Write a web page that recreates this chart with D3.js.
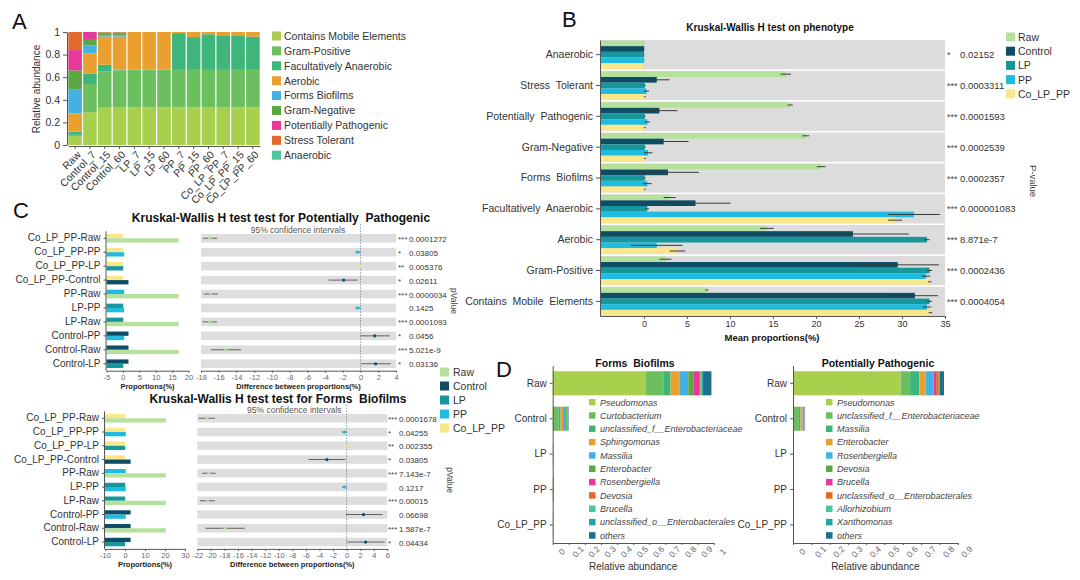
<!DOCTYPE html>
<html>
<head>
<meta charset="utf-8">
<script src="https://cdn.jsdelivr.net/npm/d3@7"></script>
<style>
  body { margin: 0; background: #fff; }
  svg { font-family: "Liberation Sans", Arial, sans-serif; }
</style>
</head>
<body>
<svg id="fig" width="1080" height="580"></svg>
<script>
// ---------- data ----------
// panel A : phenotype composition per sample (stack order, bottom first)
const samplesA = ["Raw", "Control_7", "Control_15", "Control_60", "LP_7", "LP_15", "LP_60",
  "PP_7", "PP_15", "PP_60", "Co_LP_PP_7", "Co_LP_PP_15", "Co_LP_PP_60"];
const phenotypesA = ["Contains Mobile Elements", "Gram-Positive", "Facultatively Anaerobic", "Aerobic",
  "Forms Biofilms", "Gram-Negative", "Potentially Pathogenic", "Stress Tolerant", "Anaerobic"];
const abundanceA = [
  [0.08, 0.01, 0.03, 0.16, 0.21, 0.17, 0.18, 0.16, 0.00],
  [0.29, 0.25, 0.09, 0.18, 0.07, 0.05, 0.07, 0.00, 0.00],
  [0.33, 0.32, 0.06, 0.25, 0.015, 0.02, 0.00, 0.005, 0.00],
  [0.335, 0.325, 0.005, 0.295, 0.015, 0.02, 0.00, 0.005, 0.00],
  [0.335, 0.33, 0.002, 0.333, 0, 0, 0, 0, 0],
  [0.335, 0.33, 0.002, 0.333, 0, 0, 0, 0, 0],
  [0.335, 0.33, 0.002, 0.333, 0, 0, 0, 0, 0],
  [0.335, 0.33, 0.325, 0.01, 0, 0, 0, 0, 0],
  [0.335, 0.33, 0.29, 0.045, 0, 0, 0, 0, 0],
  [0.335, 0.33, 0.315, 0.02, 0, 0, 0, 0, 0],
  [0.335, 0.33, 0.30, 0.035, 0, 0, 0, 0, 0],
  [0.335, 0.33, 0.30, 0.035, 0, 0, 0, 0, 0],
  [0.335, 0.33, 0.295, 0.04, 0, 0, 0, 0, 0]
];

// panel B : mean proportions (%) per group, with sd
const groups = ["Raw", "Control", "LP", "PP", "Co_LP_PP"];
const phenoB = ["Anaerobic", "Stress  Tolerant", "Potentially  Pathogenic", "Gram-Negative", "Forms  Biofilms",
  "Facultatively  Anaerobic", "Aerobic", "Gram-Positive", "Contains  Mobile  Elements"];
const meanB = [
  [0.03, 0.03, 0.03, 0.03, 0.03],
  [16.5, 1.5, 0.1, 0.3, 0.1],
  [17.0, 1.8, 0.1, 0.4, 0.1],
  [18.8, 2.3, 0.1, 0.5, 0.1],
  [20.6, 2.8, 0.1, 0.4, 0.1],
  [3.0, 6.0, 0.4, 31.4, 29.2],
  [14.3, 24.3, 32.9, 1.5, 3.9],
  [2.5, 29.5, 33.2, 32.8, 33.2],
  [7.3, 31.5, 33.2, 32.9, 33.3]
];
const sdB = [
  [0.02, 0.02, 0.02, 0.02, 0.02],
  [0.6, 1.5, 0.1, 0.3, 0.1],
  [0.3, 2.1, 0.1, 0.3, 0.1],
  [0.4, 2.9, 0.1, 0.5, 0.1],
  [0.5, 3.6, 0.1, 0.5, 0.1],
  [0.7, 4.1, 0.2, 3.0, 0.8],
  [0.8, 6.5, 0.3, 3.0, 0.9],
  [0.7, 4.8, 0.3, 0.5, 0.2],
  [0.2, 2.7, 0.3, 0.5, 0.2]
];
const pB = ["0.02152", "0.0003311", "0.0001593", "0.0002539", "0.0002357", "0.000001083", "8.871e-7", "0.0002436", "0.0004054"];
const starsB = ["*", "***", "***", "***", "***", "***", "***", "***", "***"];

// panel C : post-hoc pairs
const pairs = ["Co_LP_PP-Raw", "Co_LP_PP-PP", "Co_LP_PP-LP", "Co_LP_PP-Control", "PP-Raw", "LP-PP",
  "LP-Raw", "Control-PP", "Control-Raw", "Control-LP"];
const meansPath = [17.0, 1.7, 0.1, 0.4, 0.1];
const diffPath = [-17.0, -0.3, -0.05, -1.9, -16.9, -0.3, -17.0, 1.6, -15.2, 1.7];
const lowPath = [-17.8, -0.6, -0.2, -3.6, -17.7, -0.6, -17.8, 0.0, -16.9, 0.1];
const highPath = [-16.2, 0.0, 0.1, -0.3, -16.1, 0.0, -16.2, 3.3, -13.5, 3.4];
const pPath = ["0.0001272", "0.03805", "0.005376", "0.02611", "0.0000034", "0.1425", "0.0001093", "0.0456", "5.021e-9", "0.03136"];
const starsPath = ["***", "*", "**", "*", "***", "", "***", "*", "***", "*"];

const meansBio = [20.4, 2.8, 0.1, 0.4, 0.1];
const diffBio = [-20.6, -0.3, -0.05, -2.9, -20.3, -0.3, -20.5, 2.5, -17.9, 2.8];
const lowBio = [-21.8, -0.7, -0.2, -5.6, -21.3, -0.7, -21.6, -0.1, -20.8, 0.1];
const highBio = [-19.4, 0.0, 0.1, -0.2, -19.3, 0.0, -19.4, 5.3, -15.0, 5.6];
const pBio = ["0.0001678", "0.04255", "0.002355", "0.03805", "7.143e-7", "0.1217", "0.00015", "0.06698", "1.587e-7", "0.04434"];
const starsBio = ["***", "*", "**", "*", "***", "", "***", "", "***", "*"];

// panel D : genus composition of the two phenotypes
const samplesD = ["Raw", "Control", "LP", "PP", "Co_LP_PP"];
const genusBio = ["Pseudomonas", "Curtobacterium", "unclassified_f__Enterobacteriaceae", "Sphingomonas", "Massilia",
  "Enterobacter", "Rosenbergiella", "Devosia", "Brucella", "unclassified_o__Enterobacterales", "others"];
const abundBio = [
  [0.58, 0.107, 0.045, 0.058, 0.052, 0.031, 0.041, 0.005, 0.005, 0.01, 0.052],
  [0.002, 0.035, 0.012, 0.015, 0.02, 0.008, 0.001, 0.003, 0.001, 0.002, 0.001],
  [0.0005, 0.0005, 0.0003, 0.0002, 0.0003, 0.0002, 0, 0, 0, 0, 0.0005],
  [0.001, 0.003, 0.001, 0.0005, 0.001, 0.001, 0, 0, 0, 0, 0.0005],
  [0.0005, 0.0005, 0.0002, 0.0002, 0.0002, 0.0001, 0, 0, 0, 0, 0.0003]
];
const genusPath = ["Pseudomonas", "unclassified_f__Enterobacteriaceae", "Massilia", "Enterobacter", "Rosenbergiella",
  "Devosia", "Brucella", "unclassified_o__Enterobacterales", "Allorhizobium", "Xanthomonas", "others"];
const abundPath = [
  [0.588, 0.052, 0.05, 0.035, 0.042, 0.003, 0.012, 0.015, 0.002, 0.004, 0.022],
  [0.002, 0.03, 0.008, 0.012, 0.01, 0.001, 0.001, 0.001, 0, 0, 0.001],
  [0.0003, 0.0003, 0.0002, 0.0001, 0.0001, 0, 0, 0, 0, 0, 0.0001],
  [0.001, 0.001, 0.0005, 0.0005, 0.0005, 0, 0, 0, 0, 0, 0.0005],
  [0.0003, 0.0003, 0.0002, 0.0001, 0.0001, 0, 0, 0, 0, 0, 0.0001]
];

// ---------- styles ----------
const palette = ["#a8cf4e", "#6cbf5f", "#3db57b", "#eaa031", "#43b2e2", "#5aa743", "#e6399a", "#df6a2b", "#4fc59c", "#21a5a9", "#1e6e8e"];
const groupColors = ["#b6e19d", "#0d4d66", "#17979c", "#1dbce0", "#fbe68a"];
const ink = "#333";

const svg = d3.select("#fig");

function styleAxis(g, size, color) {
  g.selectAll("path, line").attr("stroke", "#555");
  g.selectAll("text").attr("fill", color || ink).style("font-size", size + "px").style("font-family", "Liberation Sans, Arial, sans-serif");
}

function plainNum(d) { return String(d); }

// ---------- panel A ----------
function drawPanelA() {
  const x = d3.scaleBand().domain(samplesA).range([68, 260]).paddingInner(0.08).paddingOuter(0.02);
  const y = d3.scaleLinear().domain([0, 1]).range([145, 32]);
  const rows = samplesA.map((s, i) => {
    const r = { sample: s };
    phenotypesA.forEach((p, j) => r[p] = abundanceA[i][j]);
    return r;
  });
  const series = d3.stack().keys(phenotypesA)(rows);

  svg.append("g").selectAll("g").data(series).join("g")
    .attr("fill", (d, i) => palette[i])
    .selectAll("rect").data(d => d).join("rect")
    .attr("x", d => x(d.data.sample))
    .attr("width", x.bandwidth())
    .attr("y", d => y(d[1]))
    .attr("height", d => Math.max(0, y(d[0]) - y(d[1])));

  const ya = svg.append("g").attr("transform", "translate(67,0)")
    .call(d3.axisLeft(y).tickValues([0, 0.2, 0.4, 0.6, 0.8, 1]).tickSize(4).tickSizeOuter(0)
      .tickFormat(d => d === 0 || d === 1 ? String(d) : d.toFixed(1)));
  styleAxis(ya, 10.5);

  const xa = svg.append("g").attr("transform", "translate(0,146)")
    .call(d3.axisBottom(x).tickSize(3).tickSizeOuter(0));
  styleAxis(xa, 10.5);
  xa.selectAll("text").attr("text-anchor", "end").attr("transform", "rotate(-45)").attr("dx", "-0.2em").attr("dy", "0.5em");

  svg.append("text").attr("transform", "translate(40,89) rotate(-90)").attr("text-anchor", "middle")
    .attr("font-size", "10px").attr("fill", ink).text("Relative abundance");

  // legend
  const lg = svg.append("g").attr("transform", "translate(272,36)");
  phenotypesA.forEach((p, i) => {
    lg.append("rect").attr("x", 0).attr("y", i * 14.9 - 4.5).attr("width", 9).attr("height", 9).attr("fill", palette[i]);
    lg.append("text").attr("x", 12).attr("y", i * 14.9 + 3.8).attr("font-size", "10.5px").attr("fill", ink).text(p);
  });
}

// ---------- panel B ----------
function drawPanelB() {
  const y = d3.scaleBand().domain(phenoB).range([40, 316]).paddingInner(0.05);
  const yg = d3.scaleBand().domain(groups).range([0.5, y.bandwidth() - 0.5]);
  const x = d3.scaleLinear().domain([-5.1, 35]).range([600, 945]);
  const g = svg.append("g");

  g.selectAll("rect.bg").data(phenoB).join("rect")
    .attr("x", 600).attr("width", 345).attr("y", d => y(d)).attr("height", y.bandwidth()).attr("fill", "#dcdcdc");

  phenoB.forEach((cat, i) => {
    const cg = g.append("g").attr("transform", `translate(0,${y(cat)})`);
    cg.selectAll("rect").data(groups).join("rect")
      .attr("x", x(-5.1)).attr("y", d => yg(d)).attr("height", yg.bandwidth())
      .attr("width", (d, j) => x(meanB[i][j]) - x(-5.1)).attr("fill", (d, j) => groupColors[j]);
    cg.selectAll("line").data(groups).join("line")
      .attr("x1", (d, j) => x(meanB[i][j] - sdB[i][j])).attr("x2", (d, j) => x(meanB[i][j] + sdB[i][j]))
      .attr("y1", d => yg(d) + yg.bandwidth() / 2).attr("y2", d => yg(d) + yg.bandwidth() / 2)
      .attr("stroke", "#3a3a3a").attr("stroke-width", 1);
  });

  const ya = g.append("g").attr("transform", "translate(600,0)").call(d3.axisLeft(y).tickSize(4).tickSizeOuter(0));
  styleAxis(ya, 10.5);
  ya.selectAll("text").style("white-space", "pre");

  const xa = g.append("g").attr("transform", "translate(0,316)")
    .call(d3.axisBottom(x).tickValues(d3.range(0, 36, 5)).tickSize(3).tickPadding(2).tickSizeOuter(0).tickFormat(plainNum));
  styleAxis(xa, 9);

  g.append("text").attr("x", 772).attr("y", 341).attr("text-anchor", "middle").attr("font-weight", "bold")
    .attr("font-size", "9.5px").attr("fill", "#111").text("Mean proportions(%)");
  g.append("text").attr("x", 770).attr("y", 31).attr("text-anchor", "middle").attr("font-weight", "bold")
    .attr("font-size", "10px").attr("fill", "#111").text("Kruskal-Wallis H test on phenotype");

  g.selectAll("text.star").data(starsB).join("text")
    .attr("x", 947).attr("y", (d, i) => y(phenoB[i]) + y.bandwidth() / 2 + 3.5)
    .attr("font-size", "9px").attr("fill", "#444").text(d => d);
  g.selectAll("text.pv").data(pB).join("text")
    .attr("x", 960).attr("y", (d, i) => y(phenoB[i]) + y.bandwidth() / 2 + 3.5)
    .attr("font-size", "9.5px").attr("fill", ink).text(d => d);
  g.append("text").attr("transform", "translate(1030,181) rotate(90)").attr("text-anchor", "middle")
    .attr("font-size", "9.5px").attr("fill", "#444").text("P-value");

  const lg = g.append("g").attr("transform", "translate(1006,37)");
  groups.forEach((gr, i) => {
    lg.append("rect").attr("x", 0).attr("y", i * 14.2 - 4.5).attr("width", 9).attr("height", 9).attr("fill", groupColors[i]);
    lg.append("text").attr("x", 12).attr("y", i * 14.2 + 4).attr("font-size", "10.5px").attr("fill", ink).text(gr);
  });
}

// ---------- panel C ----------
function drawPairTest(o) {
  const g = svg.append("g");
  const y = d3.scaleBand().domain(pairs).range(o.rows).paddingInner(0.38).paddingOuter(0.19);
  const sub = d3.scaleBand().domain([0, 1]).range([0, y.bandwidth()]);
  const xl = d3.scaleLinear().domain(o.leftDomain).range(o.leftRange);
  const xm = d3.scaleLinear().domain(o.midDomain).range(o.midRange);
  const axisY = o.rows[1];

  g.append("text").attr("x", o.titleX).attr("y", o.titleY).attr("text-anchor", "middle").attr("font-weight", "bold")
    .attr("font-size", "12px").attr("fill", "#111").style("white-space", "pre").text(o.title);
  g.append("text").attr("x", xm(o.midDomain[0]) + 97).attr("y", o.titleY + 10.5).attr("text-anchor", "middle")
    .attr("font-size", "8.5px").attr("fill", "#555").text("95% confidence intervals");

  // proportions of the two groups of each pair
  pairs.forEach(p => {
    const gi = p.split("-").map(n => groups.indexOf(n));
    g.selectAll(null).data(gi).join("rect")
      .attr("x", xl(o.leftDomain[0])).attr("y", (d, k) => y(p) + sub(k)).attr("height", sub.bandwidth())
      .attr("width", d => xl(o.means[d]) - xl(o.leftDomain[0])).attr("fill", d => groupColors[d]);
  });
  const yl = g.append("g").attr("transform", `translate(${o.leftRange[0]},0)`).call(d3.axisLeft(y).tickSize(3).tickSizeOuter(0));
  styleAxis(yl, 10);
  yl.select(".domain").attr("d", `M-0.5,${o.rows[0]}V${axisY}`);
  const xlA = g.append("g").attr("transform", `translate(0,${axisY})`)
    .call(d3.axisBottom(xl).tickValues(o.leftTicks).tickSize(2).tickPadding(1.5).tickSizeOuter(0).tickFormat(plainNum));
  styleAxis(xlA, 7.5, "#666");
  g.append("text").attr("x", (o.leftRange[0] + o.leftRange[1]) / 2).attr("y", axisY + 18).attr("text-anchor", "middle")
    .attr("font-weight", "bold").attr("font-size", "7.5px").attr("fill", "#222").text("Proportions(%)");

  // difference with 95% CI
  g.selectAll("rect.bg").data(pairs).join("rect")
    .attr("x", o.midRange[0]).attr("width", o.midRange[1] - o.midRange[0])
    .attr("y", d => y(d)).attr("height", y.bandwidth()).attr("fill", "#dedede");
  g.append("line").attr("x1", xm(0)).attr("x2", xm(0)).attr("y1", o.rows[0] - 7).attr("y2", axisY)
    .attr("stroke", "#5f87a6").attr("stroke-width", 0.8).attr("stroke-dasharray", "1.5,1.5");
  g.selectAll("line.ci").data(pairs).join("line")
    .attr("x1", (d, i) => xm(o.low[i])).attr("x2", (d, i) => xm(o.high[i]))
    .attr("y1", d => y(d) + y.bandwidth() / 2).attr("y2", d => y(d) + y.bandwidth() / 2)
    .attr("stroke", "#555").attr("stroke-width", 0.9);
  g.selectAll("circle.pt").data(pairs).join("circle")
    .attr("cx", (d, i) => xm(o.diff[i])).attr("cy", d => y(d) + y.bandwidth() / 2).attr("r", 1.6)
    .attr("fill", d => {
      const gi = d.split("-").map(n => groups.indexOf(n));
      return groupColors[o.means[gi[0]] >= o.means[gi[1]] ? gi[0] : gi[1]];
    });
  const xmA = g.append("g").attr("transform", `translate(0,${axisY})`)
    .call(d3.axisBottom(xm).tickValues(o.midTicks).tickSize(2).tickPadding(1.5).tickSizeOuter(0).tickFormat(plainNum));
  styleAxis(xmA, 7.5, "#666");
  g.append("text").attr("x", (o.midRange[0] + o.midRange[1]) / 2).attr("y", axisY + 18).attr("text-anchor", "middle")
    .attr("font-weight", "bold").attr("font-size", "7.5px").attr("fill", "#222").text("Difference between proportions(%)");

  g.selectAll("text.star").data(o.stars).join("text")
    .attr("x", o.starX).attr("y", (d, i) => y(pairs[i]) + y.bandwidth() / 2 + 3.5)
    .attr("font-size", "8px").attr("fill", "#444").text(d => d);
  g.selectAll("text.pv").data(o.p).join("text")
    .attr("x", o.starX + 11).attr("y", (d, i) => y(pairs[i]) + y.bandwidth() / 2 + 3.5)
    .attr("font-size", "8px").attr("fill", ink).text(d => d);
  g.append("text").attr("transform", `translate(${o.pLabelX},${(o.rows[0] + o.rows[1]) / 2}) rotate(90)`)
    .attr("text-anchor", "middle").attr("font-size", "8.5px").attr("fill", "#444").text("pValue");
}

function drawLegendC() {
  const lg = svg.append("g").attr("transform", "translate(440,372)");
  groups.forEach((gr, i) => {
    lg.append("rect").attr("x", 0).attr("y", i * 14 - 4.5).attr("width", 9).attr("height", 9).attr("fill", groupColors[i]);
    lg.append("text").attr("x", 13).attr("y", i * 14 + 4).attr("font-size", "10.5px").attr("fill", ink).text(gr);
  });
}

// ---------- panel D ----------
function drawGenus(o) {
  const g = svg.append("g");
  const y = d3.scaleBand().domain(samplesD).range([365.6, 542.7]).paddingInner(0.32).paddingOuter(0.16);
  const x = d3.scaleLinear().domain(o.domain).range(o.range);
  const rows = samplesD.map((s, i) => {
    const r = { sample: s };
    o.genus.forEach((k, j) => r[k] = o.values[i][j]);
    return r;
  });
  const series = d3.stack().keys(o.genus)(rows);
  g.selectAll("g.layer").data(series).join("g")
    .attr("fill", (d, i) => palette[i])
    .selectAll("rect").data(d => d).join("rect")
    .attr("y", d => y(d.data.sample)).attr("height", y.bandwidth())
    .attr("x", d => x(d[0])).attr("width", d => Math.max(0, x(d[1]) - x(d[0])));

  const ya = g.append("g").attr("transform", `translate(${o.range[0]},0)`).call(d3.axisLeft(y).tickSize(3).tickSizeOuter(0));
  styleAxis(ya, 10);
  const xa = g.append("g").attr("transform", "translate(0,543)")
    .call(d3.axisBottom(x).tickValues(o.ticks).tickSize(2).tickSizeOuter(0)
      .tickFormat(d => d === 0 || d === 1 ? String(d) : d.toFixed(1)));
  styleAxis(xa, 8.5, "#666");
  xa.selectAll("text").attr("text-anchor", "middle").attr("transform", "translate(3,3) rotate(-45)");

  g.append("text").attr("x", o.titleX).attr("y", 367).attr("text-anchor", "middle").attr("font-weight", "bold")
    .attr("font-size", "10.5px").attr("fill", "#111").style("white-space", "pre").text(o.title);
  g.append("text").attr("x", (o.range[0] + o.range[1]) / 2).attr("y", 570).attr("text-anchor", "middle")
    .attr("font-size", "10px").attr("fill", ink).text("Relative abundance");

  const lg = g.append("g").attr("transform", `translate(${o.legendX},402.3)`);
  o.genus.forEach((k, i) => {
    lg.append("rect").attr("x", 0).attr("y", i * 13.33 - 3.4).attr("width", 6.5).attr("height", 6.5).attr("fill", palette[i]);
    lg.append("text").attr("x", 11).attr("y", i * 13.33 + 3.2).attr("font-size", "9px").attr("font-style", "italic")
      .attr("fill", "#444").text(k);
  });
}

// ---------- build ----------
[["A", 12, 29], ["B", 562, 27], ["C", 13, 218], ["D", 496, 377]].forEach(([t, x, y]) => {
  svg.append("text").attr("x", x).attr("y", y).attr("font-size", "22px").attr("fill", "#111").text(t);
});

drawPanelA();
drawPanelB();
drawPairTest({
  title: "Kruskal-Wallis H test test for Potentially  Pathogenic", titleX: 281, titleY: 222,
  rows: [231.3, 370.7], means: meansPath, diff: diffPath, low: lowPath, high: highPath, p: pPath, stars: starsPath,
  leftDomain: [-5, 20], leftRange: [106.5, 188.5], leftTicks: [-5, 0, 5, 10, 15, 20],
  midDomain: [-18, 4], midRange: [201, 396], midTicks: d3.range(-18, 5, 2),
  starX: 398, pLabelX: 451
});
drawPairTest({
  title: "Kruskal-Wallis H test test for Forms  Biofilms", titleX: 278, titleY: 402.5,
  rows: [411.4, 548.9], means: meansBio, diff: diffBio, low: lowBio, high: highBio, p: pBio, stars: starsBio,
  leftDomain: [-10, 30], leftRange: [105, 185], leftTicks: [-10, 0, 10, 20, 30],
  midDomain: [-22, 6], midRange: [197.3, 387.3], midTicks: d3.range(-22, 7, 2),
  starX: 388, pLabelX: 447
});
drawLegendC();
drawGenus({
  title: "Forms  Biofilms", titleX: 635, genus: genusBio, values: abundBio,
  domain: [0, 1], range: [552.7, 713.7], ticks: d3.range(0, 11).map(d => d / 10), legendX: 589
});
drawGenus({
  title: "Potentially Pathogenic", titleX: 878, genus: genusPath, values: abundPath,
  domain: [0, 0.9], range: [793, 957.7], ticks: d3.range(0, 10).map(d => d / 10), legendX: 826
});
</script>
</body>
</html>
